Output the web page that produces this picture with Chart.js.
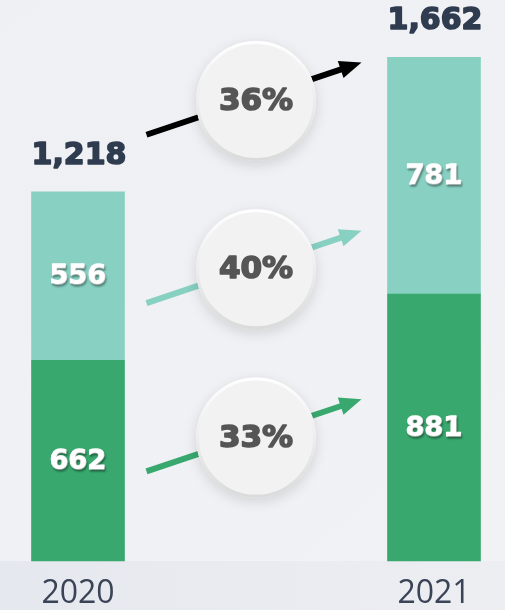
<!DOCTYPE html>
<html>
<head>
<meta charset="utf-8">
<script src="https://cdn.jsdelivr.net/npm/chart.js@4"></script>
<style>
  html, body { margin: 0; padding: 0; background: #eef0f3; }
  canvas { display: block; }
</style>
</head>
<body>
<canvas id="chart" width="505" height="610"></canvas>
<script>
(function () {
  'use strict';

  // data
  var years = ['2020', '2021'];
  var greenValues = [662, 881];
  var tealValues = [556, 781];
  var totals = years.map(function (y, i) { return greenValues[i] + tealValues[i]; });

  var GREEN = '#38a86e';
  var TEAL = '#87d0c2';
  var NAVY = '#2f3b4f';
  var FONT = '"Open Sans", "Noto Sans", sans-serif';
  var HEAVY = '"DejaVu Sans", sans-serif';

  function pct(a, b) { return Math.round((b / a - 1) * 100) + '%'; }

  function fmt(n) { return n.toLocaleString('en-US'); }

  // bold text, thickened a bit with a stroke of the same colour
  function heavyText(ctx, text, x, y, color, weight) {
    ctx.fillStyle = color;
    ctx.strokeStyle = color;
    ctx.lineWidth = weight;
    ctx.lineJoin = 'round';
    ctx.strokeText(text, x, y);
    ctx.fillText(text, x, y);
  }

  function drawArrow(ctx, x1, y1, x2, y2, color) {
    var ang = Math.atan2(y2 - y1, x2 - x1);
    var head = 22, half = 9;
    var bx = x2 - head * Math.cos(ang), by = y2 - head * Math.sin(ang);
    ctx.save();
    ctx.strokeStyle = color;
    ctx.fillStyle = color;
    ctx.lineWidth = 6;
    ctx.beginPath();
    ctx.moveTo(x1, y1);
    ctx.lineTo(bx + 2 * Math.cos(ang), by + 2 * Math.sin(ang));
    ctx.stroke();
    ctx.beginPath();
    ctx.moveTo(x2, y2);
    ctx.lineTo(bx + half * Math.sin(ang), by - half * Math.cos(ang));
    ctx.lineTo(bx - half * Math.sin(ang), by + half * Math.cos(ang));
    ctx.closePath();
    ctx.fill();
    ctx.restore();
  }

  function drawBubble(ctx, x, y, r, text) {
    ctx.save();
    ctx.shadowColor = 'rgba(0,0,0,0.13)';
    ctx.shadowBlur = 14;
    ctx.shadowOffsetY = 4;
    ctx.beginPath();
    ctx.arc(x, y, r, 0, Math.PI * 2);
    ctx.fillStyle = '#f2f2f2';
    ctx.fill();
    ctx.restore();
    ctx.save();
    var g = ctx.createLinearGradient(0, y - r, 0, y + r);
    g.addColorStop(0, '#ffffff');
    g.addColorStop(1, '#dadada');
    ctx.strokeStyle = g;
    ctx.lineWidth = 3;
    ctx.beginPath();
    ctx.arc(x, y, r - 1.5, 0, Math.PI * 2);
    ctx.stroke();
    ctx.font = 'bold 31px ' + HEAVY;
    ctx.textAlign = 'center';
    ctx.textBaseline = 'middle';
    heavyText(ctx, text, x, y + 1, '#555555', 1.6);
    ctx.restore();
  }

  var decor = {
    id: 'decor',
    beforeDraw: function (chart) {
      var ctx = chart.ctx, area = chart.chartArea;
      ctx.save();
      var bg = ctx.createLinearGradient(0, 0, chart.width, chart.height);
      bg.addColorStop(0, '#eef0f4');
      bg.addColorStop(1, '#f1f2f4');
      ctx.fillStyle = bg;
      ctx.fillRect(0, 0, chart.width, chart.height);
      var band = ctx.createLinearGradient(0, 0, chart.width, 0);
      band.addColorStop(0, '#e5e8ee');
      band.addColorStop(1, '#eceef2');
      ctx.fillStyle = band;
      ctx.fillRect(0, area.bottom, chart.width, chart.height - area.bottom);
      ctx.restore();
    },
    afterDatasetsDraw: function (chart) {
      var ctx = chart.ctx, area = chart.chartArea;
      var g = chart.getDatasetMeta(0).data;
      var t = chart.getDatasetMeta(1).data;

      // growth arrows + bubbles
      var x1 = g[0].x + g[0].width / 2 + 22;
      var x2 = g[1].x - g[1].width / 2 - 26;
      var cx = (g[0].x + g[1].x) / 2;
      var slope = -0.336;
      var rows = [
        { f: 0.18, color: '#000000', text: pct(totals[0], totals[1]) },
        { f: 0.48, color: TEAL, text: pct(tealValues[0], tealValues[1]) },
        { f: 0.78, color: GREEN, text: pct(greenValues[0], greenValues[1]) }
      ];
      rows.forEach(function (r) {
        var cy = area.top + r.f * (area.bottom - area.top);
        var ay = cy - 3;
        drawArrow(ctx, x1, ay + (x1 - cx) * slope, x2, ay + (x2 - cx) * slope, r.color);
      });
      rows.forEach(function (r) {
        var cy = area.top + r.f * (area.bottom - area.top);
        drawBubble(ctx, cx, cy, 60, r.text);
      });

      // segment labels
      ctx.save();
      ctx.font = 'bold 27px ' + HEAVY;
      ctx.textAlign = 'center';
      ctx.textBaseline = 'middle';
      ctx.shadowColor = 'rgba(0,0,0,0.3)';
      ctx.shadowOffsetX = 1;
      ctx.shadowOffsetY = 2;
      ctx.shadowBlur = 2;
      [g, t].forEach(function (els, d) {
        var vals = d === 0 ? greenValues : tealValues;
        els.forEach(function (el, i) {
          heavyText(ctx, fmt(vals[i]), el.x, (el.y + el.base) / 2 + 1, '#ffffff', 1.4);
        });
      });
      ctx.restore();

      // totals
      ctx.save();
      ctx.font = 'bold 30px ' + HEAVY;
      ctx.textAlign = 'center';
      ctx.textBaseline = 'middle';
      t.forEach(function (el, i) {
        heavyText(ctx, fmt(totals[i]), el.x + 1, el.y - 36, NAVY, 1.6);
      });
      ctx.restore();
    }
  };

  new Chart(document.getElementById('chart').getContext('2d'), {
    type: 'bar',
    data: {
      labels: years,
      datasets: [
        { data: greenValues, backgroundColor: GREEN, borderWidth: 0, clip: false },
        { data: tealValues, backgroundColor: TEAL, borderWidth: 0, clip: false }
      ]
    },
    options: {
      responsive: false,
      animation: false,
      layout: { padding: { left: 78, right: 71, top: 0, bottom: 0 } },
      datasets: { bar: { barThickness: 93 } },
      plugins: { legend: { display: false }, tooltip: { enabled: false } },
      scales: {
        x: {
          stacked: true,
          offset: false,
          grid: { display: false, drawTicks: false },
          border: { display: false },
          ticks: { color: '#3a4456', padding: 14, font: { family: FONT, size: 32 } },
          afterFit: function (s) { s.height = 49; }
        },
        y: {
          stacked: true,
          display: false,
          min: 0,
          max: 1851
        }
      }
    },
    plugins: [decor]
  });
})();
</script>
</body>
</html>
